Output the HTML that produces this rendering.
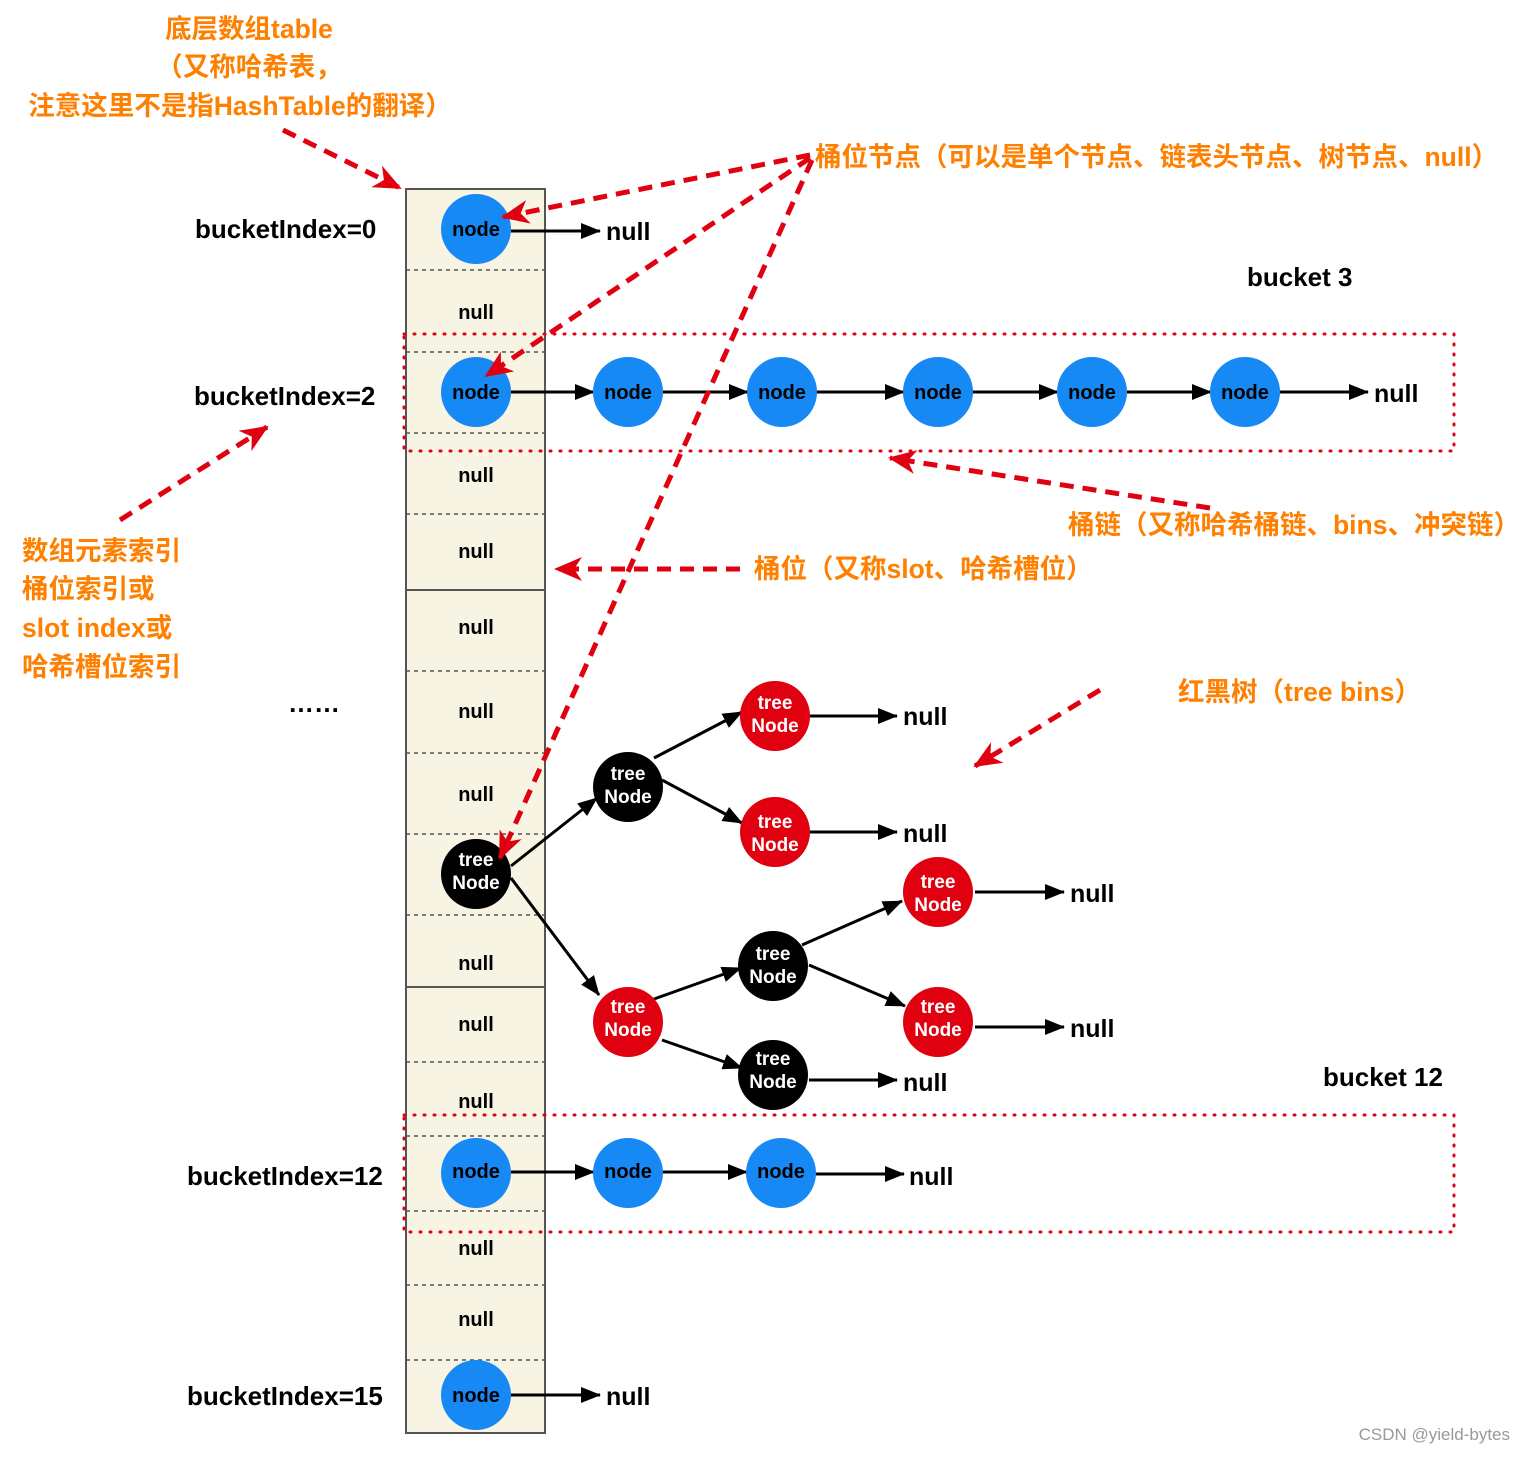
<!DOCTYPE html>
<html><head><meta charset="utf-8"><style>body{margin:0;background:#fff}</style></head><body>
<svg width="1526" height="1452" xmlns="http://www.w3.org/2000/svg" font-family="Liberation Sans, Noto Sans CJK SC, sans-serif">
<defs>
<marker id="a" markerWidth="20" markerHeight="16" refX="19" refY="8" orient="auto" markerUnits="userSpaceOnUse" viewBox="0 0 20 16"><path d="M0,0L20,8L0,16z" fill="#000"/></marker>
<marker id="r" markerWidth="28" markerHeight="24" refX="26" refY="12" orient="auto" markerUnits="userSpaceOnUse" viewBox="0 0 28 24"><path d="M0,0L28,12L0,24L8,12z" fill="#e00010"/></marker>
</defs>
<rect x="406" y="189" width="139" height="1244" fill="#f7f4e4" stroke="#555" stroke-width="2"/>
<g stroke="#555" stroke-width="1.5" stroke-dasharray="4,4">
<line x1="406" x2="545" y1="270" y2="270"/><line x1="406" x2="545" y1="352" y2="352"/><line x1="406" x2="545" y1="433" y2="433"/><line x1="406" x2="545" y1="514" y2="514"/><line x1="406" x2="545" y1="671" y2="671"/><line x1="406" x2="545" y1="753" y2="753"/><line x1="406" x2="545" y1="834" y2="834"/><line x1="406" x2="545" y1="915" y2="915"/><line x1="406" x2="545" y1="1062" y2="1062"/><line x1="406" x2="545" y1="1136" y2="1136"/><line x1="406" x2="545" y1="1211" y2="1211"/><line x1="406" x2="545" y1="1285" y2="1285"/><line x1="406" x2="545" y1="1360" y2="1360"/>
</g>
<line x1="406" x2="545" y1="590" y2="590" stroke="#555" stroke-width="2"/>
<line x1="406" x2="545" y1="987" y2="987" stroke="#555" stroke-width="2"/>
<g font-size="20" text-anchor="middle" fill="#000" font-weight="bold">
<text x="476" y="319">null</text><text x="476" y="482">null</text><text x="476" y="558">null</text><text x="476" y="634">null</text><text x="476" y="718">null</text><text x="476" y="801">null</text><text x="476" y="970">null</text><text x="476" y="1031">null</text><text x="476" y="1108">null</text><text x="476" y="1255">null</text><text x="476" y="1326">null</text>
</g>
<g fill="none" stroke="#e00010" stroke-width="3" stroke-dasharray="1,9" stroke-linecap="round">
<rect x="404" y="334" width="1050" height="117"/>
<rect x="404" y="1115" width="1050" height="117"/>
</g>
<g stroke="#000" stroke-width="3" marker-end="url(#a)">
<line x1="511" y1="231" x2="600" y2="231"/>
<line x1="511" y1="392" x2="594" y2="392"/><line x1="662" y1="392" x2="748" y2="392"/><line x1="816" y1="392" x2="904" y2="392"/><line x1="972" y1="392" x2="1058" y2="392"/><line x1="1126" y1="392" x2="1211" y2="392"/><line x1="1279" y1="392" x2="1368" y2="392"/>
<line x1="511" y1="1172" x2="594" y2="1172"/><line x1="662" y1="1172" x2="747" y2="1172"/><line x1="815" y1="1174" x2="904" y2="1174"/>
<line x1="511" y1="1395" x2="600" y2="1395"/>
<line x1="511" y1="866" x2="597" y2="798"/><line x1="511" y1="878" x2="599" y2="995"/>
<line x1="654" y1="758" x2="742" y2="712"/><line x1="662" y1="780" x2="742" y2="823"/>
<line x1="809" y1="716" x2="897" y2="716"/><line x1="809" y1="832" x2="897" y2="832"/>
<line x1="654" y1="999" x2="741" y2="968"/><line x1="662" y1="1040" x2="742" y2="1068"/>
<line x1="802" y1="945" x2="902" y2="901"/><line x1="809" y1="965" x2="905" y2="1006"/>
<line x1="975" y1="892" x2="1064" y2="892"/><line x1="975" y1="1027" x2="1064" y2="1027"/>
<line x1="809" y1="1080" x2="897" y2="1080"/>
</g>
<g font-size="25" fill="#000" font-weight="bold">
<text x="606" y="240">null</text><text x="1374" y="402">null</text><text x="909" y="1185">null</text><text x="606" y="1405">null</text>
<text x="903" y="725">null</text><text x="903" y="842">null</text><text x="1070" y="902">null</text><text x="1070" y="1037">null</text><text x="903" y="1091">null</text>
</g>
<g fill="#1689f5">
<circle cx="476" cy="229" r="35"/><circle cx="476" cy="392" r="35"/><circle cx="628" cy="392" r="35"/><circle cx="782" cy="392" r="35"/><circle cx="938" cy="392" r="35"/><circle cx="1092" cy="392" r="35"/><circle cx="1245" cy="392" r="35"/>
<circle cx="476" cy="1173" r="35"/><circle cx="628" cy="1173" r="35"/><circle cx="781" cy="1173" r="35"/><circle cx="476" cy="1395" r="35"/>
</g>
<g font-size="20" text-anchor="middle" fill="#000" font-weight="bold">
<text x="476" y="236">node</text><text x="476" y="399">node</text><text x="628" y="399">node</text><text x="782" y="399">node</text><text x="938" y="399">node</text><text x="1092" y="399">node</text><text x="1245" y="399">node</text>
<text x="476" y="1178">node</text><text x="628" y="1178">node</text><text x="781" y="1178">node</text><text x="476" y="1402">node</text>
</g>
<g>
<circle cx="476" cy="874" r="35" fill="#000"/><circle cx="628" cy="787" r="35" fill="#000"/><circle cx="773" cy="966" r="35" fill="#000"/><circle cx="773" cy="1075" r="35" fill="#000"/>
<circle cx="775" cy="716" r="35" fill="#e00010"/><circle cx="775" cy="832" r="35" fill="#e00010"/><circle cx="628" cy="1022" r="35" fill="#e00010"/><circle cx="938" cy="892" r="35" fill="#e00010"/><circle cx="938" cy="1022" r="35" fill="#e00010"/>
</g>
<g font-size="19" font-weight="bold" text-anchor="middle" fill="#fff">
<text x="476" y="866">tree</text><text x="476" y="889">Node</text>
<text x="628" y="780">tree</text><text x="628" y="803">Node</text>
<text x="773" y="960">tree</text><text x="773" y="983">Node</text>
<text x="773" y="1065">tree</text><text x="773" y="1088">Node</text>
<text x="775" y="709">tree</text><text x="775" y="732">Node</text>
<text x="775" y="828">tree</text><text x="775" y="851">Node</text>
<text x="628" y="1013">tree</text><text x="628" y="1036">Node</text>
<text x="938" y="888">tree</text><text x="938" y="911">Node</text>
<text x="938" y="1013">tree</text><text x="938" y="1036">Node</text>
</g>
<g stroke="#e00010" stroke-width="5" stroke-dasharray="14,9" fill="none" marker-end="url(#r)">
<line x1="283" y1="130" x2="400" y2="188"/>
<line x1="810" y1="155" x2="503" y2="217"/>
<line x1="810" y1="158" x2="486" y2="376"/>
<line x1="812" y1="160" x2="500" y2="858"/>
<line x1="1210" y1="508" x2="890" y2="458"/>
<line x1="740" y1="569" x2="556" y2="569"/>
<line x1="120" y1="520" x2="267" y2="427"/>
<line x1="1100" y1="690" x2="975" y2="766"/>
</g>
<g font-size="26" fill="#000" font-weight="bold">
<text x="195" y="238">bucketIndex=0</text><text x="194" y="405">bucketIndex=2</text><text x="187" y="1185">bucketIndex=12</text><text x="187" y="1405">bucketIndex=15</text>
<text x="1247" y="286">bucket 3</text><text x="1323" y="1086">bucket 12</text>
<text x="288" y="712">……</text>
</g>
<g font-size="26.5" font-weight="bold" fill="#ff8000">
<text x="249" y="38" text-anchor="middle">底层数组table</text>
<text x="249" y="76" text-anchor="middle">（又称哈希表，</text>
<text x="240" y="115" text-anchor="middle">注意这里不是指HashTable的翻译）</text>
<text x="815" y="166">桶位节点（可以是单个节点、链表头节点、树节点、null）</text>
<text x="1068" y="534">桶链（又称哈希桶链、bins、冲突链）</text>
<text x="754" y="578">桶位（又称slot、哈希槽位）</text>
<text x="1178" y="701">红黑树（tree bins）</text>
<text x="22" y="560">数组元素索引</text><text x="22" y="598">桶位索引或</text><text x="22" y="637">slot index或</text><text x="22" y="676">哈希槽位索引</text>
</g>
<text x="1510" y="1440" font-size="17" fill="#999" text-anchor="end">CSDN @yield-bytes</text>
</svg>
</body></html>
